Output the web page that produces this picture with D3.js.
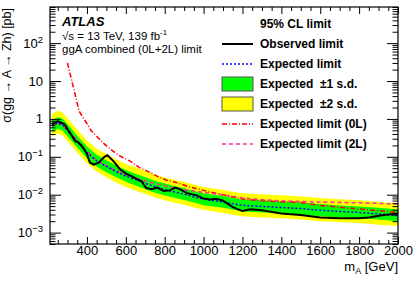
<!DOCTYPE html>
<html><head><meta charset="utf-8">
<script src="https://cdn.jsdelivr.net/npm/d3@7"></script>
<style>
body{margin:0;background:#fff}
svg{display:block;font-family:"Liberation Sans",Arial,Helvetica,sans-serif}
text{white-space:pre}
</style>
</head><body>
<svg id="c" width="415" height="281"></svg>
<script>
// ---- data ----
const massExp = [220,250,275,300,350,400,450,500,550,600,650,700,750,800,850,900,950,1000,1100,1200,1300,1400,1500,1600,1700,1800,1900,2000];
const expected = [0.65,0.78,0.70,0.50,0.25,0.13,0.078,0.056,0.041,0.031,0.025,0.020,0.0162,0.0136,0.0118,0.0103,0.0088,0.0076,0.0064,0.0052,0.0049,0.0046,0.0043,0.0039,0.0036,0.0034,0.0031,0.0028];
const exp2sLow = [0.34,0.41,0.36,0.26,0.13,0.068,0.041,0.029,0.021,0.016,0.013,0.0104,0.0084,0.0071,0.0061,0.0054,0.0046,0.0040,0.0033,0.0027,0.0025,0.0024,0.0022,0.0020,0.0019,0.0018,0.0016,0.0015];
const exp1sLow = [0.455,0.55,0.49,0.35,0.175,0.091,0.055,0.039,0.029,0.022,0.0175,0.014,0.0113,0.0095,0.0083,0.0072,0.0062,0.0053,0.0045,0.0036,0.0034,0.0032,0.0030,0.0027,0.0025,0.0024,0.0022,0.0020];
const exp1sHigh = [0.94,1.13,1.02,0.73,0.36,0.19,0.113,0.081,0.059,0.045,0.036,0.029,0.0235,0.0197,0.0171,0.0149,0.0128,0.0110,0.0093,0.0075,0.0071,0.0067,0.0062,0.0057,0.0052,0.0049,0.0045,0.0041];
const exp2sHigh = [1.37,1.64,1.47,1.05,0.53,0.27,0.164,0.118,0.086,0.065,0.053,0.042,0.034,0.0286,0.0248,0.0216,0.0185,0.0160,0.0134,0.0109,0.0103,0.0097,0.0090,0.0082,0.0076,0.0071,0.0065,0.0059];

const massObs = [220,250,285,310,340,355,375,400,415,435,460,490,505,535,570,605,630,655,680,705,735,760,795,825,855,880,915,965,1000,1035,1065,1100,1150,1200,1240,1300,1400,1500,1600,1700,1800,1850,1925,2000];
const observed = [0.72,0.87,0.72,0.45,0.26,0.24,0.19,0.12,0.071,0.062,0.070,0.10,0.11,0.078,0.047,0.035,0.031,0.026,0.023,0.015,0.014,0.0154,0.0126,0.013,0.0154,0.0138,0.011,0.0096,0.0079,0.0075,0.0078,0.0070,0.0047,0.0037,0.0041,0.0039,0.0032,0.0029,0.0025,0.0024,0.0024,0.0025,0.0029,0.0032];

const mass0L = [300,360,400,420,450,480,520,570,620,670,710,760,810,860,930,1000,1100,1200,1300,1500,1600,1800,2000];
const exp0L = [30,1.6,0.75,0.5,0.35,0.24,0.16,0.105,0.078,0.052,0.042,0.031,0.024,0.021,0.016,0.013,0.0100,0.0077,0.0069,0.0062,0.0052,0.0042,0.0034];

const mass2L = [220,250,300,350,400,450,500,550,600,700,800,900,1000,1100,1200,1300,1400,1500,1600,1800,2000];
const exp2L = [0.66,0.80,0.52,0.27,0.14,0.080,0.058,0.043,0.034,0.023,0.017,0.0135,0.0115,0.0098,0.0082,0.0074,0.0069,0.0066,0.0064,0.0061,0.0057];

const xMajor = [400,600,800,1000,1200,1400,1600,1800,2000];
const yMajor = [1e-3,1e-2,1e-1,1,10,100];
const yLabels = [["10","−3"],["10","−2"],["10","−1"],["1",""],["10",""],["10","2"]];

const legendItems = [
  {label:"Observed limit", kind:"line", color:"#000", width:2, dash:null},
  {label:"Expected limit", kind:"line", color:"#0000ff", width:1.5, dash:"2,2"},
  {label:"Expected  ±1 s.d.", kind:"box", color:"#00ff00"},
  {label:"Expected  ±2 s.d.", kind:"box", color:"#ffff00"},
  {label:"Expected limit (0L)", kind:"line", color:"#ff0000", width:1.5, dash:"5,2,1,2"},
  {label:"Expected limit (2L)", kind:"line", color:"#ff2da0", width:1.5, dash:"4,3"}
];

// ---- layout ----
const L=50, R=398, T=7, B=244;
const svg = d3.select("#c");
const x = d3.scaleLinear().domain([210,2000]).range([L,R]);
const y = d3.scaleLog().domain([5e-4,900]).range([B,T]);

svg.append("defs").append("clipPath").attr("id","clip")
  .append("rect").attr("x",L).attr("y",T).attr("width",R-L).attr("height",B-T);
const plot = svg.append("g").attr("clip-path","url(#clip)");

const band = (lo,hi)=>d3.area().x((d,i)=>x(massExp[i])).y0((d,i)=>y(lo[i])).y1((d,i)=>y(hi[i]));
plot.append("path").datum(massExp).attr("d",band(exp2sLow,exp2sHigh)).attr("fill","#ffff00");
plot.append("path").datum(massExp).attr("d",band(exp1sLow,exp1sHigh)).attr("fill","#00ff00");

const line = (ms,vs)=>d3.line().x((d,i)=>x(ms[i])).y((d,i)=>y(vs[i]))(vs);
plot.append("path").attr("d",line(mass0L,exp0L)).attr("fill","none").attr("stroke","#ff0000").attr("stroke-width",1.5).attr("stroke-dasharray","5,2,1,2");
plot.append("path").attr("d",line(mass2L,exp2L)).attr("fill","none").attr("stroke","#ff2da0").attr("stroke-width",1.5).attr("stroke-dasharray","4,3");
plot.append("path").attr("d",line(massExp,expected)).attr("fill","none").attr("stroke","#0000ff").attr("stroke-width",1.5).attr("stroke-dasharray","2,2");
plot.append("path").attr("d",line(massObs,observed)).attr("fill","none").attr("stroke","#000").attr("stroke-width",2);

// ---- axes (inward ticks, on all sides) ----
const xMinor = d3.range(250,2001,50).filter(v=>!xMajor.includes(v));
const yMinor = [];
for (let e=-4;e<=2;e++) for (let k=2;k<=9;k++){const v=k*Math.pow(10,e); if(v>=5e-4&&v<=900) yMinor.push(v);}

function styleAxis(g){ g.select(".domain").remove(); g.selectAll("line").attr("stroke","#000"); }
svg.append("g").attr("transform",`translate(0,${B})`)
  .call(d3.axisBottom(x).tickValues(xMajor).tickSize(-7).tickPadding(2).tickFormat(d3.format("d")))
  .call(styleAxis).call(g=>g.selectAll("text").attr("font-size",13).attr("fill","#000").attr("font-family","Liberation Sans, Arial, sans-serif"));
svg.append("g").attr("transform",`translate(0,${B})`)
  .call(d3.axisBottom(x).tickValues(xMinor).tickSize(-4).tickFormat("")).call(styleAxis);
svg.append("g").attr("transform",`translate(0,${T})`)
  .call(d3.axisTop(x).tickValues(xMajor).tickSize(-7).tickFormat("")).call(styleAxis);
svg.append("g").attr("transform",`translate(0,${T})`)
  .call(d3.axisTop(x).tickValues(xMinor).tickSize(-4).tickFormat("")).call(styleAxis);

svg.append("g").attr("transform",`translate(${L},0)`)
  .call(d3.axisLeft(y).tickValues(yMajor).tickSize(-11).tickFormat("")).call(styleAxis);
svg.append("g").attr("transform",`translate(${L},0)`)
  .call(d3.axisLeft(y).tickValues(yMinor).tickSize(-5.5).tickFormat("")).call(styleAxis);
svg.append("g").attr("transform",`translate(${R},0)`)
  .call(d3.axisRight(y).tickValues(yMajor).tickSize(-11).tickFormat("")).call(styleAxis);
svg.append("g").attr("transform",`translate(${R},0)`)
  .call(d3.axisRight(y).tickValues(yMinor).tickSize(-5.5).tickFormat("")).call(styleAxis);

// y tick labels with superscripts
yMajor.forEach((v,i)=>{
  const t = svg.append("text").attr("x",43).attr("y",y(v)+4.5).attr("text-anchor","end").attr("font-size",13).attr("fill","#000");
  t.append("tspan").text(yLabels[i][0]);
  if (yLabels[i][1]) t.append("tspan").attr("dy",-5).attr("font-size",9.5).text(yLabels[i][1]);
});

svg.append("rect").attr("x",L).attr("y",T).attr("width",R-L).attr("height",B-T)
  .attr("fill","none").attr("stroke","#000").attr("stroke-width",1.2);

// axis titles
const xt = svg.append("text").attr("x",R).attr("y",271).attr("text-anchor","end").attr("font-size",13);
xt.append("tspan").text("m");
xt.append("tspan").attr("dy",3).attr("font-size",9).text("A");
xt.append("tspan").attr("dy",-3).text(" [GeV]");

svg.append("text").attr("transform","translate(11,8) rotate(-90)").attr("text-anchor","end")
  .attr("font-size",12.5).text("σ(gg → A → Zh) [pb]");

// labels
svg.append("text").attr("x",62).attr("y",26).attr("font-size",13).attr("font-weight","bold").attr("font-style","italic").text("ATLAS");
const s = svg.append("text").attr("x",62).attr("y",39.5).attr("font-size",11.5);
s.append("tspan").text("√s = 13 TeV, 139 fb");
s.append("tspan").attr("dy",-4.5).attr("font-size",8).text("-1");
svg.append("text").attr("x",62).attr("y",53).attr("font-size",11.5).text("ggA combined (0L+2L) limit");

// legend
svg.append("text").attr("x",260).attr("y",28).attr("font-size",12).attr("font-weight","bold").text("95% CL limit");
legendItems.forEach((it,i)=>{
  const base = 48 + i*20;
  const cy = base - 4;
  if (it.kind==="box") {
    svg.append("rect").attr("x",222).attr("y",cy-7).attr("width",31).attr("height",14)
      .attr("fill",it.color).attr("stroke","#555").attr("stroke-width",1);
  } else {
    svg.append("line").attr("x1",222).attr("x2",253).attr("y1",cy).attr("y2",cy)
      .attr("stroke",it.color).attr("stroke-width",it.width).attr("stroke-dasharray",it.dash);
  }
  svg.append("text").attr("x",260).attr("y",base).attr("font-size",12).attr("font-weight","bold").text(it.label);
});
</script>
</body></html>
